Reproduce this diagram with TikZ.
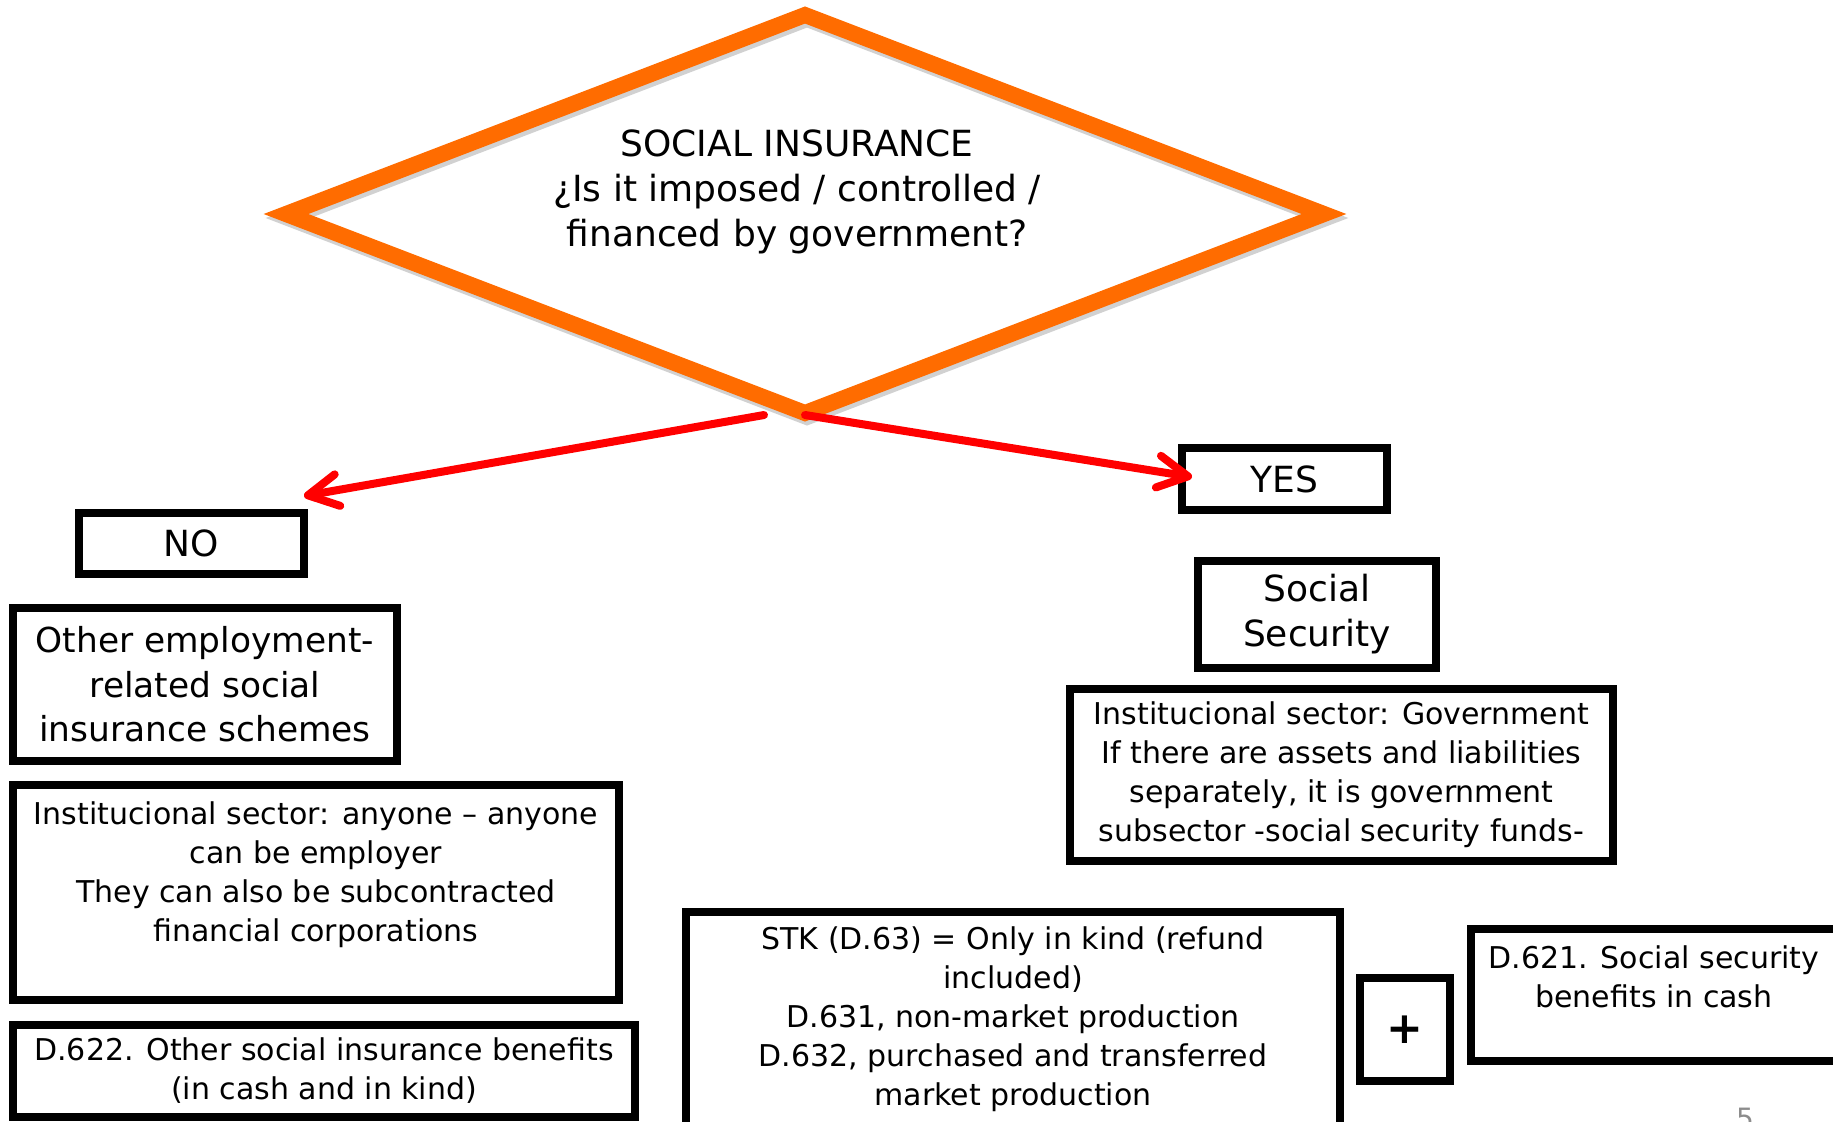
\documentclass[tikz,border=0pt]{standalone}
\usepackage{fontspec}
\setmainfont{DejaVu Sans}
\usetikzlibrary{arrows.meta}
\definecolor{dorange}{RGB}{255,108,0}
\begin{document}
\begin{tikzpicture}[x=0.5pt,y=-0.5pt,
  box/.style={draw=black, line width=4pt, align=center, inner sep=0pt, fill=white},
  small/.style={font=\fontsize{15pt}{19.5pt}\selectfont},
  big/.style={font=\fontsize{18pt}{22.5pt}\selectfont},
  redarrow/.style={draw=red, line width=4pt, line cap=round,
    -{Straight Barb[length=15pt,width=16pt,round]}}]
\useasboundingbox (0,0) rectangle (1833,1121);
% diamond
\coordinate (dt) at (805,15);
\coordinate (dr) at (1324,214);
\coordinate (db) at (805,413);
\coordinate (dl) at (286,214);
\draw[black!30, opacity=0.6, line width=8pt, line join=miter]
  ([shift={(2,4)}]dt) -- ([shift={(2,4)}]dr) -- ([shift={(2,4)}]db) -- ([shift={(2,4)}]dl) -- cycle;
\draw[dorange, line width=8pt, line join=miter] (dt) -- (dr) -- (db) -- (dl) -- cycle;
\node[big, align=center] (q) at (797,192)
  {SOCIAL INSURANCE\\¿Is it imposed / controlled /\\financed by government?};
% boxes
\node[box, big, minimum width=112.5pt, minimum height=30.5pt] (no) at (191.5,543.5) {NO};
\node[box, big, minimum width=102.5pt, minimum height=31pt] (yes) at (1284.5,479) {YES};
\node[box, big, minimum width=119pt, minimum height=53.5pt] (ss) at (1317,614.5) {Social\\Security};
\node[box, small, minimum width=271.5pt, minimum height=86pt] (gov) at (1341.5,775)
  {Institucional sector: Government\\If there are assets and liabilities\\separately, it is government\\subsector -social security funds-};
\node[box, font=\fontsize{17.2pt}{22.3pt}\selectfont, minimum width=192pt, minimum height=76.5pt] (other) at (205,684.5)
  {Other employment-\\related social\\insurance schemes};
\node[box, small, minimum width=303pt, minimum height=107.5pt] (any) at (316,892.5)
  {Institucional sector: anyone – anyone\\can be employer\\They can also be subcontracted\\financial corporations\\[-4pt]\strut};
\node[box, small, minimum width=311pt, minimum height=46pt] (d622) at (324,1071)
  {D.622. Other social insurance benefits\\(in cash and in kind)};
\node[box, small, minimum width=327pt, minimum height=107pt] (stk) at (1013,1019)
  {STK (D.63) = Only in kind (refund\\included)\\D.631, non-market production\\D.632, purchased and transferred\\market production};
\node[box, font=\fontsize{22pt}{22pt}\selectfont\bfseries, minimum width=45pt, minimum height=51.5pt] (plus) at (1405,1029.5) {+};
\node[box, small, minimum width=183pt, minimum height=66pt] (d621) at (1654,995)
  {D.621. Social security\\benefits in cash\\[-7pt]\strut};
\node[anchor=north, inner sep=0pt, text=black!45, font=\fontsize{14pt}{14pt}\selectfont] (pg) at (1745,1108) {5};
% arrows
\coordinate (lstart) at (764,415);
\coordinate (ltip) at (304,496);
\coordinate (rstart) at (805,415);
\coordinate (rtip) at (1192,477);
\draw[redarrow] (lstart) -- (ltip);
\draw[redarrow] (rstart) -- (rtip);
\end{tikzpicture}
\end{document}
